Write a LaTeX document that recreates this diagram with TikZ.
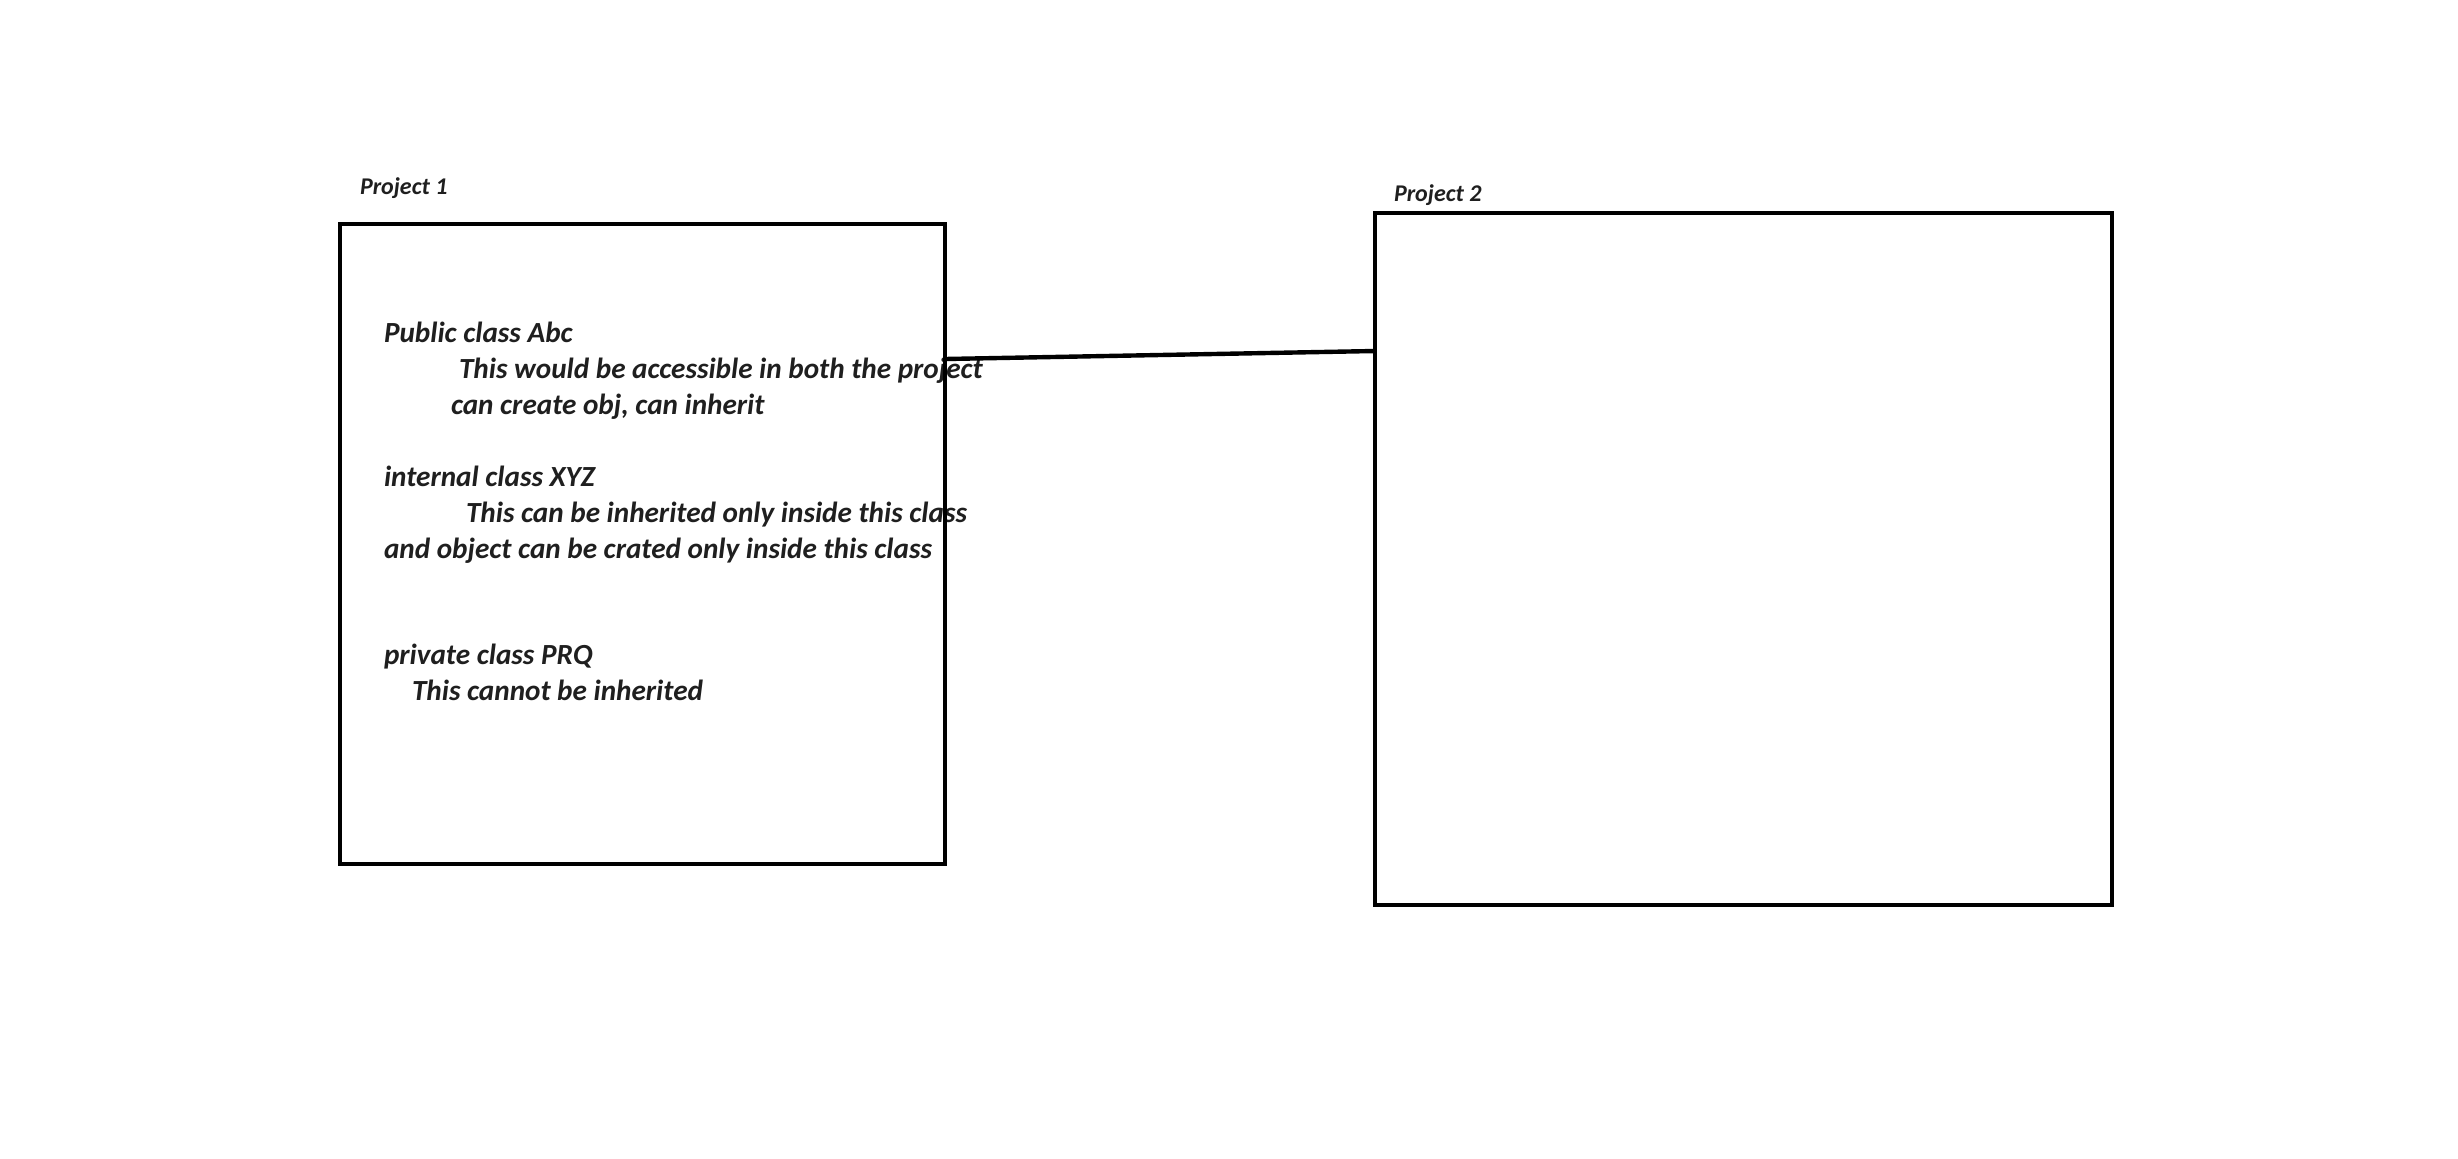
\documentclass[tikz,border=0pt]{standalone}
\usepackage{fontspec}
\setmainfont{Carlito}
\begin{document}
\begin{tikzpicture}[x=0.5pt,y=-0.5pt,
  txt/.style={anchor=base west,inner sep=0pt,outer sep=0pt,text=black!88,font=\fontsize{14.6pt}{18pt}\selectfont\bfseries\itshape},
  ptitle/.style={anchor=base west,inner sep=0pt,outer sep=0pt,text=black!88,font=\fontsize{12pt}{14pt}\selectfont\bfseries\itshape},
  projbox/.style={draw=black,line width=2.4pt,rectangle,inner sep=0pt,outer sep=0pt},
  conn/.style={draw=black,line width=2.2pt}]
\useasboundingbox[fill=white] (0,0) rectangle (2458,1158);
% titles
\node[ptitle] (p1) at (360,194) {Project 1};
\node[ptitle] (p2) at (1394,201) {Project 2};
% texts in project 1
\node[txt] (t1) at (384,342.5) {Public class Abc};
\node[txt] (t2) at (459,378.5) {This would be accessible in both the project};
\node[txt] (t3) at (451,414.5) {can create obj, can inherit};
\node[txt] (t4) at (384,486.5) {internal class XYZ};
\node[txt] (t5) at (466,522.5) {This can be inherited only inside this class};
\node[txt] (t6) at (384,558.5) {and object can be crated only inside this class};
\node[txt] (t7) at (384,664.5) {private class PRQ};
\node[txt] (t8) at (412,700.5) {This cannot be inherited};
% boxes
\node[projbox,minimum width=302.5pt,minimum height=320pt] (b1) at (642.5,544) {};
\node[projbox,minimum width=368.5pt,minimum height=346pt] (b2) at (1743.5,559) {};
% connector
\path (b1.north east) ++(0,135) coordinate (c1);
\path (b2.north west) ++(0,138) coordinate (c2);
\draw[conn] (c1) -- (c2);
\end{tikzpicture}
\end{document}
